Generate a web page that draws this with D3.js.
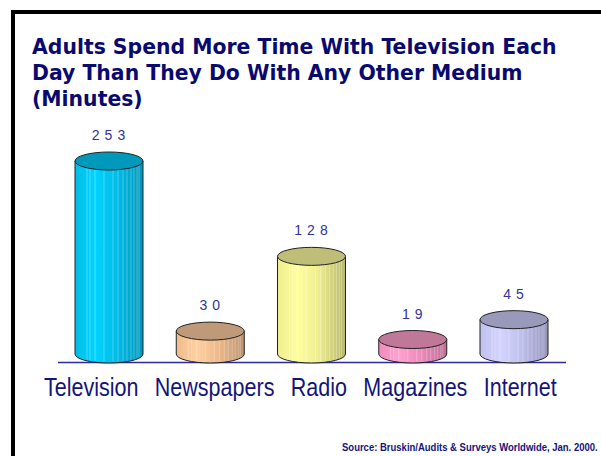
<!DOCTYPE html>
<html>
<head>
<meta charset="utf-8">
<script src="https://cdn.jsdelivr.net/npm/d3@7"></script>
<style>
  body { margin: 0; background: #fff; }
  svg { display: block; }
</style>
</head>
<body>
<svg id="chart" width="601" height="456"></svg>
<script>
// Data
var categories = ["Television", "Newspapers", "Radio", "Magazines", "Internet"];
var minutes = [253, 30, 128, 19, 45];
var titleLines = ["Adults Spend More Time With Television Each",
                  "Day Than They Do With Any Other Medium",
                  "(Minutes)"];
var sourceText = "Source: Bruskin/Audits & Surveys Worldwide, Jan. 2000.";

// Colors (body light, body mid, body dark, top)
var colors = [
  { light: "#00d4ff", mid: "#00bde8", dark: "#0096bc", top: "#0099bb" },
  { light: "#ffd0a0", mid: "#efbb8c", dark: "#bc9470", top: "#bf9a78" },
  { light: "#ffffa0", mid: "#eeee90", dark: "#b8b870", top: "#bebe78" },
  { light: "#ffa0d0", mid: "#ee8cbc", dark: "#bb6e94", top: "#c07898" },
  { light: "#d4d4ff", mid: "#c0c0ee", dark: "#9494bb", top: "#9999bb" }
];

var navy = "#14147a";
var svg = d3.select("#chart");

// frame (cut off at right and bottom)
svg.append("rect")
   .attr("x", 13).attr("y", 12)
   .attr("width", 700).attr("height", 600)
   .attr("fill", "none")
   .attr("stroke", "#000")
   .attr("stroke-width", 4);

// Title
svg.append("g")
   .selectAll("text")
   .data(titleLines)
   .enter()
   .append("text")
   .attr("x", 32)
   .attr("y", function(d, i) { return 54 + i * 26; })
   .attr("font-family", "DejaVu Sans, Verdana, sans-serif")
   .attr("font-weight", "bold")
   .attr("font-size", 20.4)
   .attr("fill", "#0a0a6e")
   .text(function(d) { return d; });

// Scales
var xScale = d3.scalePoint().domain(categories).range([109, 514]);
var yScale = d3.scaleLinear().domain([0, 253]).range([354, 161]);
var rx = 34, ry = 9;

var defs = svg.append("defs");
colors.forEach(function(c, i) {
  var g = defs.append("linearGradient")
              .attr("id", "grad" + i)
              .attr("x1", "0%").attr("x2", "100%")
              .attr("y1", "0%").attr("y2", "0%");
  g.append("stop").attr("offset", "0%").attr("stop-color", c.mid);
  g.append("stop").attr("offset", "30%").attr("stop-color", c.light);
  g.append("stop").attr("offset", "60%").attr("stop-color", c.mid);
  g.append("stop").attr("offset", "100%").attr("stop-color", c.dark);
});

// Baseline
svg.append("line")
   .attr("x1", 58).attr("x2", 566)
   .attr("y1", 362.5).attr("y2", 362.5)
   .attr("stroke", "#2a2a9a")
   .attr("stroke-width", 1.5);

// Cylinders
var bars = svg.append("g")
              .selectAll("g.cyl")
              .data(categories)
              .enter()
              .append("g")
              .attr("class", "cyl");

bars.append("path")
    .attr("d", function(d, i) {
      var cx = xScale(d), yb = yScale(0), yt = yScale(minutes[i]);
      return "M" + (cx - rx) + "," + yt +
             "L" + (cx - rx) + "," + yb +
             "A" + rx + "," + ry + " 0 0,0 " + (cx + rx) + "," + yb +
             "L" + (cx + rx) + "," + yt + "Z";
    })
    .attr("fill", function(d, i) { return "url(#grad" + i + ")"; })
    .attr("stroke", "#222")
    .attr("stroke-width", 1);

// light stripes on the body
var stripeOffsets = [-22, -19, -14, -5, 4, 9, 14, 18, 22, 25, 28, 30];
bars.each(function(d, i) {
  var cx = xScale(d), yb = yScale(0), yt = yScale(minutes[i]);
  d3.select(this).selectAll("line.stripe")
    .data(stripeOffsets)
    .enter()
    .append("line")
    .attr("class", "stripe")
    .attr("x1", function(o) { return cx + o; })
    .attr("x2", function(o) { return cx + o; })
    .attr("y1", yt + 2)
    .attr("y2", function(o) { return yb + ry * Math.sqrt(1 - (o / rx) * (o / rx)) - 1; })
    .attr("stroke", "#fff")
    .attr("stroke-opacity", 0.35)
    .attr("stroke-width", 0.8);
});

bars.append("ellipse")
    .attr("cx", function(d) { return xScale(d); })
    .attr("cy", function(d, i) { return yScale(minutes[i]); })
    .attr("rx", rx)
    .attr("ry", ry)
    .attr("fill", function(d, i) { return colors[i].top; })
    .attr("stroke", "#222")
    .attr("stroke-width", 1);

// Value labels
bars.append("text")
    .attr("x", function(d) { return xScale(d) + 2; })
    .attr("y", function(d, i) { return yScale(minutes[i]) - 21; })
    .attr("text-anchor", "middle")
    .attr("font-family", "Liberation Sans, Arial, sans-serif")
    .attr("font-size", 14)
    .attr("letter-spacing", 5)
    .attr("fill", "#333399")
    .text(function(d, i) { return minutes[i]; });

// Category labels: one condensed text line, like the original text box
var catGroup = svg.append("g");
var catText = catGroup.append("text")
   .attr("x", 0)
   .attr("y", 0)
   .attr("font-family", "Liberation Sans, Arial, sans-serif")
   .attr("font-size", 25)
   .attr("fill", navy);
catText.selectAll("tspan")
   .data(categories)
   .enter()
   .append("tspan")
   .attr("dx", function(d, i) { return i === 0 ? 0 : 19; })
   .text(function(d) { return d; });
var catW = catText.node().getBBox().width;
var catK = 513 / catW;
catGroup.attr("transform", "translate(44,396) scale(" + catK + ",1)");

// Source
var srcGroup = svg.append("g");
var srcText = srcGroup.append("text")
   .attr("x", 0)
   .attr("y", 0)
   .attr("font-family", "Liberation Sans, Arial, sans-serif")
   .attr("font-weight", "bold")
   .attr("font-size", 11)
   .attr("fill", navy)
   .text(sourceText);
var srcK = 256 / srcText.node().getBBox().width;
srcGroup.attr("transform", "translate(342,451) scale(" + srcK + ",1)");
</script>
</body>
</html>
